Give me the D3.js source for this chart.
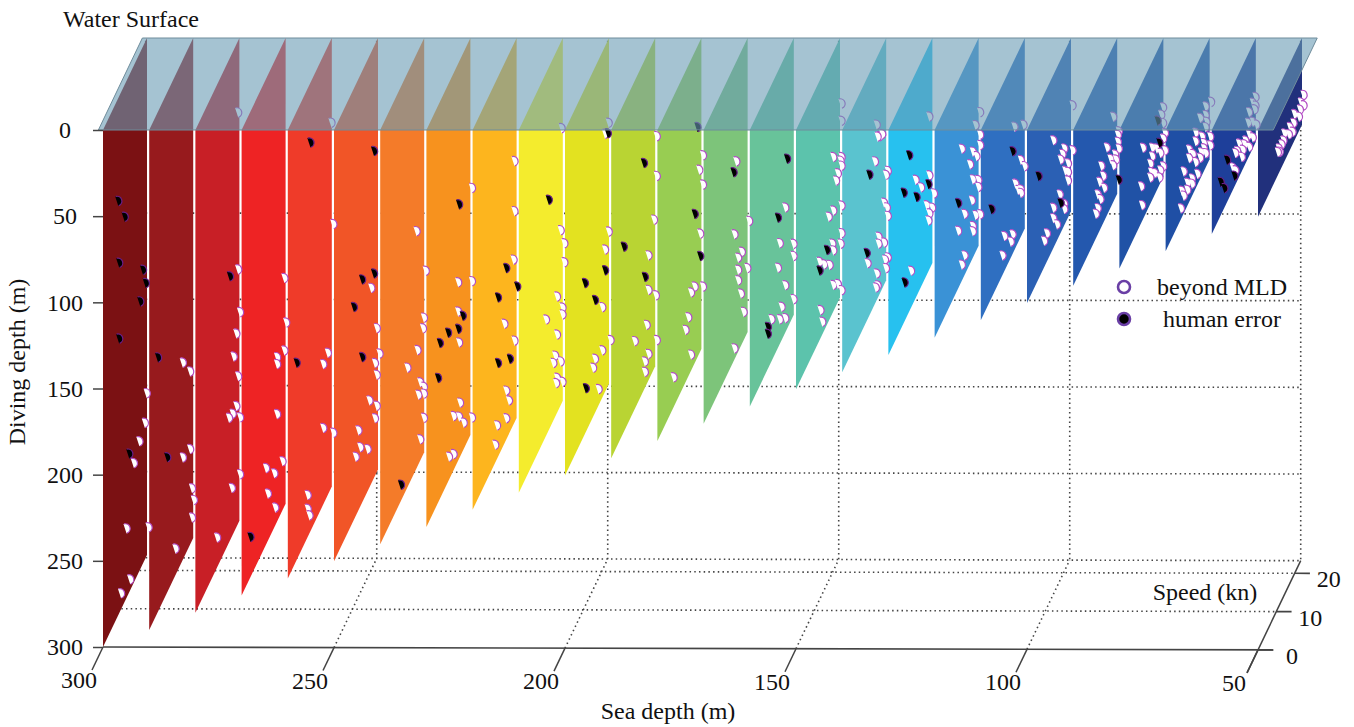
<!DOCTYPE html>
<meta charset="UTF-8">
<style>
  html, body { margin: 0; background: #fff; }
  text { font-family: "Liberation Serif", serif; font-size: 24px; fill: #111; }
</style>
<svg width="1354" height="727"></svg>
<script src="https://cdn.jsdelivr.net/npm/d3@7"></script>
<script>

var seaDepths = d3.range(300, 40, -10);
var sliceColors = ["#7b1113", "#971a1d", "#c81f26", "#ee2324", "#ef3b29", "#f15527", "#f47b29", "#f7921e",
    "#fdb51e", "#f4ec2d", "#e3e220", "#b9d433", "#98cd52", "#7dc47a", "#68c39a", "#5cc3ac",
    "#5ac3cf", "#27c1ef", "#3a92d6", "#2f6fc1", "#2b60b4", "#2458ae", "#2052a6", "#1f4fa5", "#1e3f9a", "#21307c"];

var seaTicks = [300, 250, 200, 150, 100, 50];
var depthTicks = [0, 50, 100, 150, 200, 250, 300];
var speedTicks = [0, 10, 20];
var speedMax = 24;    // slices run up to here
var speedBack = 23.3; // back wall of the box

// [sea depth, speed, diving depth]
var beyondMLD = [
    [300,23,204],[300,22,219],[300,19,223],[300,16,229],[300,12,258],[300,24,284],[300,14,292],[300,9,289],
    [290,17.5,174],[290,21.5,188],[290,21.5,233],[290,17.5,229],[290,22.5,258],[290,23.5,267],[290,22.5,275],[290,13.5,273],
    [280,22.5,40],[280,22.5,131],[280,23.5,158],[280,21.5,166],[280,20,176],[280,22.5,193],[280,21.5,208],[280,19.5,208],[280,17.5,206],[280,23.5,219],[280,23.5,252],[280,19,250],[280,11,261],
    [270,22.5,136],[270,23.5,164],[270,22.5,178],[270,18.5,173],[270,18.5,177],[270,18.5,206],[270,21.5,240],[270,12.5,224],[270,17,237],[270,13.5,241],[270,17.5,258],
    [260,23,47],[260,24,108],[260,21,176],[260,18.5,177],[260,18.5,214],[260,24,229],[260,10,234],[260,10,242],[260,11,248],
    [250,19.5,135],[250,22.5,165],[250,24,183],[250,21.5,183],[250,22.5,192],[250,18.5,198],[250,22.5,210],[250,21.5,215],[250,12.5,202],[250,13.5,214],[250,17.5,224],[250,11,214],
    [240,19,101],[240,24,135],[240,23,160],[240,22.5,165],[240,19.5,171],[240,14,169],[240,21,193],[240,23,200],[240,20,198],[240,23,204],[240,23,218],[240,21,226],
    [230,24,87],[230,16.5,125],[230,24,141],[230,16.5,142],[230,17,161],[230,17.5,197],[230,14,197],[230,17,204],[230,19.5,213],[230,24,220],[230,14,219],[230,11.5,215],
    [220,22,67],[220,22,96],[220,21.5,123],[220,16.5,149],[220,22,171],[220,17.5,190],[220,19,199],[220,17.5,206],[220,12.5,199],[220,11.5,208],
    [210,22.5,49],[210,22,107],[210,24,119],[210,24,130],[210,20,141],[210,23,154],[210,23,158],[210,14,141],[210,20,163],[210,19,173],[210,18,175],[210,22,183],[210,20,188],[210,19.5,190],[210,23,197],
    [200,21,49],[200,23,47],[200,23,110],[200,21,116],[200,19.5,146],[200,24,175],[200,19.5,171],[200,15.5,167],[200,14.5,170],[200,17.5,189],
    [190,24,57],[190,24,80],[190,22.5,102],[190,19.5,116],[190,19.5,136],[190,23.5,148],[190,18.5,154],[190,24,175],[190,12,149],[190,19.5,173],[190,17.5,173],[190,17.5,179],
    [180,24,68],[180,22,72],[180,24,85],[180,22.5,110],[180,24,144],[180,19.5,134],[180,17.5,133],[180,16,144],[180,14.5,148],[180,17.5,169],[180,8,161],
    [170,17,56],[170,24,106],[170,16,96],[170,20,115],[170,18,114],[170,18,121],[170,23,131],[170,18,127],[170,19.5,138],[170,21,152],[170,16,162],
    [160,18.5,86],[160,15.5,100],[160,23,117],[160,23,124],[160,14.5,112],[160,18.5,131],[160,23,149],[160,16.5,139],[160,11,134],[160,15.5,144],[160,18.5,150],
    [150,24,38],[150,24,48],[150,19.5,59],[150,24,69],[150,23.5,70],[150,24,74],[150,22,74],[150,21,76],[150,24,97],[150,19.5,90],[150,17,88],[150,24,113],[150,19,108],[150,23.5,118],[150,19.5,113],[150,12,103],[150,14.5,110],[150,17.5,117],[150,19.5,133],[150,22,138],[150,24,146],[150,12.5,132],[150,13.5,141],
    [140,18,37],[140,19.5,47],[140,21,49],[140,18.5,45],[140,17,56],[140,24,77],[140,23,77],[140,22,91],[140,23.5,97],[140,24,103],[140,19,104],[140,19,108],[140,22,114],[140,13,106],[140,24,127],[140,22.5,125],[140,23,131],[140,18,123],[140,18.5,131],[140,17.5,130],
    [130,21.5,40],[130,14,60],[130,21.5,74],[130,17,71],[130,24,90],[130,20,88],[130,23,96],[130,21.5,96],[130,21,99],[130,11.5,107],
    [120,24,43],[120,21.5,45],[120,24,56],[120,24,62],[120,14,42],[120,20,57],[120,22,64],[120,18.5,61],[120,20,73],[120,23,80],[120,23,84],[120,19.5,84],[120,15.5,83],[120,21.5,97],[120,24,102],[120,20,100],[120,20,103],[120,12,85],[120,15.5,107],[120,14,109],
    [110,17.5,37],[110,22.5,47],[110,21,64],[110,23,72],[110,18,71],[110,19.5,78],[110,21,81],[110,21,83],[110,16.5,97],[110,12,88],[110,15.5,99],[110,11,97],
    [100,24,39],[100,13.5,36],[100,19.5,54],[100,18.5,55],[100,24,65],[100,17.5,56],[100,21.5,67],[100,20,68],[100,21.5,72],[100,21.5,77],[100,17,75],[100,19.5,86],[100,19.5,89],[100,13.5,75],[100,13.5,81],[100,15.5,89],[100,10,82],[100,8.5,83],
    [90,21,39],[90,24,54],[90,23.5,55],[90,23.5,59],[90,24,64],[90,17.5,49],[90,22,63],[90,19.5,60],[90,22.5,67],[90,21,67],[90,14.5,53],[90,15.5,61],[90,13.5,60],[90,16,69],[90,12.5,65],[90,14,71],[90,12.5,73],[90,11.5,74],
    [80,23,38],[80,22,40],[80,23,47],[80,24,55],[80,23,56],[80,12,37],[80,17,48],[80,19.5,54],[80,24,65],[80,17,53],[80,21.5,61],[80,16,55],[80,23,72],[80,21.5,71],[80,16.5,61],[80,18.5,66],[80,16,63],[80,21,74],[80,11,57],[80,11.5,69],
    [70,24,37],[70,21,33],[70,21,38],[70,18,33],[70,21.5,43],[70,21,45],[70,15.5,36],[70,19,46],[70,23.5,56],[70,15.5,41],[70,20,52],[70,23.5,61],[70,12,38],[70,20,55],[70,14,45],[70,18.5,54],[70,21,60],[70,12,43],[70,18,56],[70,15.5,53],[70,9,44],[70,16.5,62],[70,13.5,58],[70,11,55],[70,13.5,61],[70,8,53],[70,11,59],[70,9,58],[70,7.5,62],
    [60,23,32],[60,21.5,32],[60,23,37],[60,19.5,33],[60,22.5,38],[60,19,38],[60,21.5,43],[60,23.5,49],[60,19.5,46],[60,21.5,52],[60,17.5,45],[60,14,39],[60,17,46],[60,19.5,53],[60,13,41],[60,16,47],[60,12,40],[60,15.5,50],[60,10.5,45],[60,12,50],
    [50,24,33],[50,22.5,34],[50,24,39],[50,22,37],[50,19,33],[50,21.5,40],[50,18.5,37],[50,16.5,35],[50,18,41],[50,13.5,32],[50,16,38],[50,13,35],[50,12,35],[50,10.5,34],[50,11,37],[50,10,35]
];

var humanError = [
    [300,7.5,58],[300,11,75],[300,8,95],[300,21,128],[300,22.5,139],[300,19.5,143],[300,8,139],[300,13.5,218],
    [290,4,141],[290,9,210],
    [280,18,125],
    [270,4,245],
    [260,11.5,33],[260,4,144],
    [250,21,59],[250,14.5,119],[250,21,130],[250,10,125],[250,14.5,164],
    [240,10.5,229],
    [230,17,81],[230,19,150],[230,16.5,152],[230,6.5,138],[230,11,142],[230,5.5,156],
    [220,17.5,119],[220,23.5,143],[220,13,126],[220,19.5,176],[220,13,164],
    [210,15.5,75],
    [200,22.5,52],[200,21,128],[200,10,111],[200,15.5,133],[200,10.5,173],
    [190,17,57],[190,6,81],[190,17.5,124],
    [180,21,45],[180,19.5,92],[180,22.5,123],
    [170,15.5,59],
    [160,19.5,60],[160,14.5,83],[160,9,134],[160,9,138],
    [150,16,105],[150,12,108],
    [140,14,57],[140,12.5,99],
    [130,10.5,38],[130,21,78],[130,7.5,53],[130,14.5,71],[130,8,106],
    [120,12,69],
    [110,16.5,49],[110,5,57],
    [100,5.5,39],[100,17.5,81],
    [90,24,82],
    [80,20,39],[80,21,54],
    [60,7.5,34],[60,11.5,52],[60,4,39],[60,6,47]
];

var svg = d3.select("svg");

var seaX = d3.scaleLinear().domain([300, 50]).range([103, 1258]);
var depthY = d3.scaleLinear().domain([0, 300]).range([130, 647]);
var speedDX = d3.scaleLinear().domain([0, 24]).range([0, 44]);
var speedDY = d3.scaleLinear().domain([0, 24]).range([0, -92]);
var sliceColor = d3.scaleOrdinal().domain(seaDepths).range(sliceColors);

// the scanned figure sags a little to the right at the bottom
function project(s, v, d) {
  var x = seaX(s) + speedDX(v);
  return [x, depthY(d) + speedDY(v) + 0.0025 * (x - 103) * d / 300];
}

var line = d3.line().x(p => project(p[0], p[1], p[2])[0]).y(p => project(p[0], p[1], p[2])[1]);

function dotted(pts) {
  svg.append("path").attr("d", line(pts))
      .attr("fill", "none").attr("stroke", "#444").attr("stroke-width", 1.6)
      .attr("stroke-dasharray", "1.5 3.2");
}

// box grid behind the slices
depthTicks.filter(d => d >= 100).forEach(d => dotted([[300, speedBack, d], [50, speedBack, d]]));
seaTicks.forEach(s => dotted([[s, speedBack, 0], [s, speedBack, 300]]));
seaTicks.slice(1, 5).forEach(s => dotted([[s, 0, 300], [s, speedBack, 300]]));
speedTicks.slice(1).forEach(v => dotted([[300, v, 300], [50, v, 300]]));

// slices, each one runs down to the sea bed of its bin
svg.append("g").selectAll("path").data(seaDepths).join("path")
    .attr("fill", d => sliceColor(d))
    .attr("d", s => line([[s, 0, 0], [s, speedMax, 0], [s, speedMax, s], [s, 0, s]]));

// markers: half disc with purple rim, seen at an angle
var halfDisc = d3.arc().innerRadius(0).outerRadius(5).startAngle(0).endAngle(Math.PI);
var rim = d3.arc().innerRadius(4.3).outerRadius(5.5).startAngle(0.1).endAngle(Math.PI - 0.1);

function markers(rows, fill, rimColor) {
  var g = svg.append("g").selectAll("g").data(rows).join("g")
      .attr("transform", r => "translate(" + project(r[0], r[1], r[2]) + ") rotate(-18) scale(1.05,1)");
  g.append("path").attr("d", halfDisc()).attr("fill", fill);
  g.append("path").attr("d", rim()).attr("fill", rimColor);
}
markers(beyondMLD, "#fff", "#b24bc4");
markers(humanError, "#000", "#6a1f8a");

// water surface goes over everything drawn so far
svg.append("path")
    .attr("d", line([[301, 0, 0], [301, speedMax, 0], [46.7, speedMax, 0], [46.7, 0, 0]]) + "Z")
    .attr("fill", "rgb(105,155,180)").attr("fill-opacity", 0.6)
    .attr("stroke", "#6f8c9b").attr("stroke-width", 1);

svg.append("text").attr("x", 63).attr("y", 27).text("Water Surface");

// diving depth axis
var axisDepth = svg.append("g").attr("transform", "translate(103,0)")
    .call(d3.axisLeft(depthY).tickValues(depthTicks).tickSize(10).tickSizeOuter(0));
axisDepth.select(".domain").attr("stroke", "none");
axisDepth.selectAll("line").attr("stroke", "#444").attr("stroke-width", 1.5);
axisDepth.selectAll("text").attr("x", -38).attr("text-anchor", "middle")
    .style("font-family", "Liberation Serif").style("font-size", "24px").attr("fill", "#111");

svg.append("text").attr("transform", "translate(25,362) rotate(-90)")
    .attr("text-anchor", "middle").text("Diving depth (m)");

// sea depth axis along the front of the floor
var axisColor = "#444";
svg.append("path").attr("d", line([[300, 0, 300], [46.7, 0, 300]]))
    .attr("fill", "none").attr("stroke", axisColor).attr("stroke-width", 1.6);

var seaTick = svg.append("g").selectAll("g").data(seaTicks).join("g");
seaTick.append("path").attr("d", s => line([[s, 0, 300], [s, -6, 300]]))
    .attr("fill", "none").attr("stroke", axisColor).attr("stroke-width", 1.5);
seaTick.append("text").attr("text-anchor", "middle")
    .attr("x", s => project(s, 0, 300)[0] - 24)
    .attr("y", s => project(s, 0, 300)[1] + 41)
    .text(s => s);

svg.append("text").attr("x", 668).attr("y", 719).attr("text-anchor", "middle").text("Sea depth (m)");

// speed axis up the right side
svg.append("path").attr("d", line([[50, -6, 300], [50, speedBack, 300]]))
    .attr("fill", "none").attr("stroke", axisColor).attr("stroke-width", 1.5);

var speedTick = svg.append("g").selectAll("g").data(speedTicks).join("g");
speedTick.append("path").attr("d", v => line([[50, v, 300], [46.7, v, 300]]))
    .attr("fill", "none").attr("stroke", axisColor).attr("stroke-width", 1.6);
speedTick.append("text").attr("text-anchor", "middle")
    .attr("x", v => project(50, v, 300)[0] + 34)
    .attr("y", v => project(50, v, 300)[1] + 14)
    .text(v => v);

svg.append("text").attr("x", 1205).attr("y", 600).attr("text-anchor", "middle").text("Speed (kn)");

// legend
var legendRows = [["beyond MLD", "#fff", 1157, 287], ["human error", "#000", 1163, 319]];
var legend = svg.append("g").selectAll("g").data(legendRows).join("g");
legend.append("circle").attr("cx", 1124).attr("cy", d => d[3]).attr("r", 6)
    .attr("fill", d => d[1]).attr("stroke", "#6a3fa5").attr("stroke-width", 2.6);
legend.append("text").attr("x", d => d[2]).attr("y", d => d[3] + 8).text(d => d[0]);

</script>
